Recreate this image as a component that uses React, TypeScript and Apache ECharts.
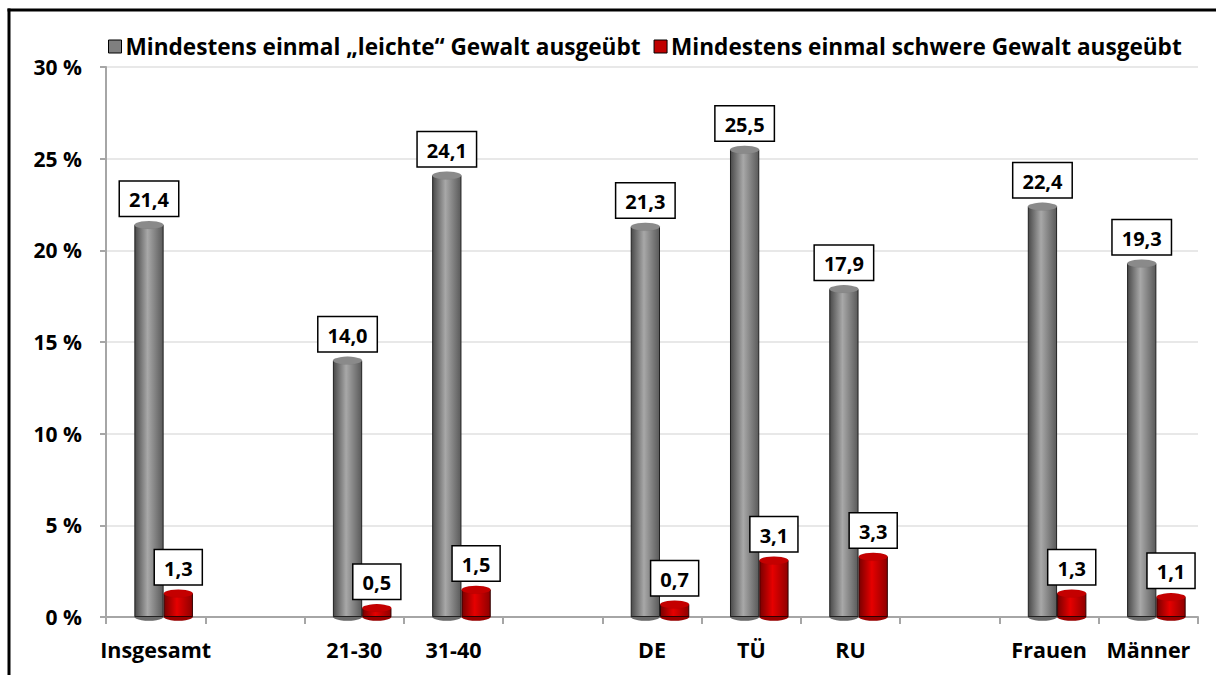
import React, { useEffect, useRef } from "react";
import * as echarts from "echarts";

const categories = ["Insgesamt", "", "21-30", "31-40", "", "DE", "TÜ", "RU", "", "Frauen", "Männer"];
const leichte = [21.4, null, 14.0, 24.1, null, 21.3, 25.5, 17.9, null, 22.4, 19.3];
const schwere = [1.3, null, 0.5, 1.5, null, 0.7, 3.1, 3.3, null, 1.3, 1.1];
const seriesNames = [
  "Mindestens einmal „leichte“ Gewalt ausgeübt",
  "Mindestens einmal schwere Gewalt ausgeübt",
];
const yTicks = [0, 5, 10, 15, 20, 25, 30];

const FONT = "'Open Sans', 'Noto Sans', sans-serif";

export default function App() {
  const ref = useRef<HTMLDivElement>(null);
  useEffect(() => {
    if (!ref.current) return;
    const chart = echarts.init(ref.current, null, { renderer: "svg" });
    const grayGrad = new echarts.graphic.LinearGradient(0, 0, 1, 0, [
      { offset: 0, color: "#4a4a4a" },
      { offset: 0.45, color: "#a8a8a8" },
      { offset: 1, color: "#5a5a5a" },
    ]);
    const redGrad = new echarts.graphic.LinearGradient(0, 0, 1, 0, [
      { offset: 0, color: "#7a0000" },
      { offset: 0.45, color: "#e60000" },
      { offset: 1, color: "#8f0000" },
    ]);
    const fmt = (p: any) =>
      p.value == null ? "" : Number(p.value).toFixed(1).replace(".", ",");
    const label = {
      show: true,
      position: "top" as const,
      distance: 9,
      formatter: fmt,
      backgroundColor: "#ffffff",
      borderColor: "#000000",
      borderWidth: 1.5,
      padding: [8, 9, 6, 9],
      color: "#000",
      fontFamily: FONT,
      fontWeight: "bold" as const,
      fontSize: 20,
    };
    const gap = "41%";
    const capCommon = {
      type: "pictorialBar",
      barGap: "0%",
      barCategoryGap: gap,
      symbol: "circle",
      symbolSize: ["100%", 8],
      silent: true,
      yAxisIndex: 1,
    };
    chart.setOption({
      animation: false,
      backgroundColor: "#ffffff",
      textStyle: { fontFamily: FONT },
      legend: {
        data: [
          { name: seriesNames[0], itemStyle: { color: "#7f7f7f", borderColor: "#000", borderWidth: 1 } },
          { name: seriesNames[1], itemStyle: { color: "#c00000", borderColor: "#000", borderWidth: 1 } },
        ],
        top: 30,
        left: 103,
        icon: "rect",
        itemWidth: 13,
        itemHeight: 13,
        itemGap: 13,
        textStyle: { fontFamily: FONT, fontWeight: "bold", fontSize: 22.6, color: "#000", padding: [0, 0, 0, -1] },
      },
      grid: [
        { left: 106, right: 18, top: 67, bottom: 58 },
        { left: 114, right: 10, top: 67, bottom: 58 },
      ],
      xAxis: [
        {
          type: "category",
          gridIndex: 0,
          data: categories,
          axisLine: { lineStyle: { color: "#a6a6a6", width: 2 } },
          axisTick: { show: true, length: 7, lineStyle: { color: "#a6a6a6", width: 2 } },
          axisLabel: { color: "#000", fontFamily: FONT, fontWeight: "bold", fontSize: 21.5, margin: 21, interval: 0 },
        },
        { type: "category", gridIndex: 1, data: categories, show: false },
        { type: "category", gridIndex: 1, data: categories, show: false },
      ],
      yAxis: [
        {
          type: "value",
          gridIndex: 0,
          min: 0,
          max: 30,
          interval: 5,
          axisLine: { show: true, lineStyle: { color: "#a6a6a6", width: 2 } },
          axisTick: { show: true, length: 6, lineStyle: { color: "#a6a6a6", width: 2 } },
          axisLabel: {
            color: "#000",
            fontFamily: FONT,
            fontWeight: "bold",
            fontSize: 21,
            margin: 24,
            formatter: (v: number) => (yTicks.includes(v) ? `${v} %` : ""),
          },
          splitLine: { show: true, lineStyle: { color: "#e8e8e8", width: 2 } },
        },
        { type: "value", gridIndex: 1, min: 0, max: 30, interval: 5, show: false, splitLine: { show: false } },
      ],
      series: [
        {
          name: seriesNames[0],
          type: "bar",
          xAxisIndex: 1,
          yAxisIndex: 1,
          data: leichte,
          barGap: "0%",
          barCategoryGap: gap,
          itemStyle: { color: grayGrad, borderColor: "#222", borderWidth: 1 },
          label,
          z: 2,
        },
        {
          name: seriesNames[1],
          type: "bar",
          xAxisIndex: 1,
          yAxisIndex: 1,
          data: schwere,
          barGap: "0%",
          barCategoryGap: gap,
          itemStyle: { color: redGrad, borderColor: "#300000", borderWidth: 1 },
          label,
          z: 2,
        },
        {
          ...capCommon,
          name: "capTop1",
          xAxisIndex: 1,
          data: leichte,
          symbolPosition: "end",
          symbolOffset: [0, "-50%"],
          itemStyle: { color: "#8a8a8a", borderColor: "#111", borderWidth: 1 },
          z: 3,
        },
        {
          ...capCommon,
          name: "capTop2",
          xAxisIndex: 1,
          data: schwere,
          symbolPosition: "end",
          symbolOffset: [0, "-50%"],
          itemStyle: { color: "#c40000", borderColor: "#200000", borderWidth: 1 },
          z: 3,
        },
        {
          ...capCommon,
          name: "capBot1",
          xAxisIndex: 2,
          data: leichte,
          symbolPosition: "start",
          symbolOffset: [0, "50%"],
          itemStyle: { color: "#6a6a6a", borderColor: "#222", borderWidth: 1 },
          z: 1,
        },
        {
          ...capCommon,
          name: "capBot2",
          xAxisIndex: 2,
          data: schwere,
          symbolPosition: "start",
          symbolOffset: [0, "50%"],
          itemStyle: { color: "#9a0000", borderColor: "#300000", borderWidth: 1 },
          z: 1,
        },
      ],
      graphic: [
        { type: "line", shape: { x1: 7.5, y1: 10, x2: 1216, y2: 10 }, style: { stroke: "#000", lineWidth: 3 } },
        { type: "line", shape: { x1: 9, y1: 8.5, x2: 9, y2: 675 }, style: { stroke: "#000", lineWidth: 3 } },
      ],
    });
    return () => chart.dispose();
  }, []);
  return (
    <div
      ref={ref}
      style={{ position: "fixed", left: 0, top: 0, width: 1216, height: 675 }}
    />
  );
}
